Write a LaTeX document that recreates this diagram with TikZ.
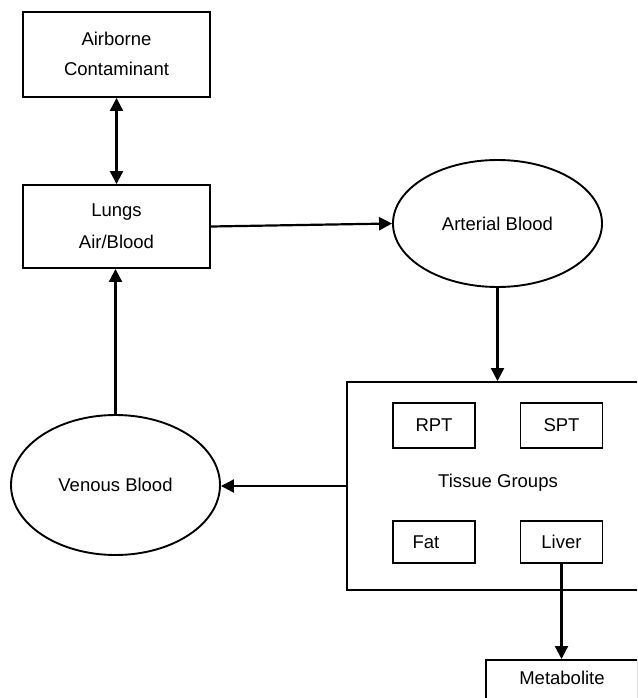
\documentclass[tikz,border=0pt]{standalone}
\usepackage{fontspec}
\setmainfont{Liberation Sans}
\usetikzlibrary{shapes.geometric,arrows.meta}
\begin{document}
\begin{tikzpicture}[x=1pt,y=-1pt,
  every node/.style={font=\fontsize{18.5}{30}\selectfont, inner sep=0pt, line width=1.9pt},
  box/.style={draw, rectangle, align=center},
  oval/.style={draw, ellipse, minimum width=209pt},
  conn/.style={line width=2.2pt, -{Triangle[length=13pt,width=13pt]}},
  dconn/.style={line width=2.2pt, {Triangle[length=13pt,width=13pt]}-{Triangle[length=13pt,width=13pt]}}]
\useasboundingbox (0,0) rectangle (637,698);
\clip (0,0) rectangle (637,698);
\fill[white] (0,0) rectangle (637,698);
\node[box, minimum width=187pt, minimum height=85pt] (air) at (116.5,54.5) {\raisebox{4pt}{\begin{tabular}{@{}c@{}}Airborne\\Contaminant\end{tabular}}};
\node[box, minimum width=187pt, minimum height=83pt] (lungs) at (116.5,226.5) {\raisebox{2pt}{\begin{tabular}{@{}c@{}}Lungs\\[2pt]Air/Blood\end{tabular}}};
\node[oval, minimum height=127pt] (art) at (497.5,223.5) {Arterial Blood};
\node[oval, minimum height=140pt] (ven) at (115.5,485) {Venous Blood};
\node[box, minimum width=303pt, minimum height=208pt] (tis) at (498.5,486) {};
\node (tislab) at (498,483) {Tissue Groups};
\node[box, minimum width=82pt, minimum height=45pt] (rpt) at (434,425.5) {RPT};
\node[box, minimum width=82pt, minimum height=45pt] (spt) at (561.5,425.5) {SPT};
\node[box, minimum width=82pt, minimum height=42pt] (fat) at (434,542) {Fat\hspace{16pt}};
\node[box, minimum width=82pt, minimum height=42pt] (liver) at (561.5,542) {Liver};
\node[box, anchor=north, minimum width=152pt, text height=24.6pt, text depth=60pt] (met) at (562,659) {Metabolite};
\draw[dconn] (air.south) -- (lungs.north);
\draw[conn] (lungs.east) -- (art.west);
\draw[conn] (art.south) -- (art.south |- tis.north);
\draw[conn] (tis.west) -- (tis.west -| ven.east);
\draw[conn] (ven.north) -- (ven.north |- lungs.south);
\draw[conn] (liver.south) -- (liver.south |- met.north);
\end{tikzpicture}
\end{document}
